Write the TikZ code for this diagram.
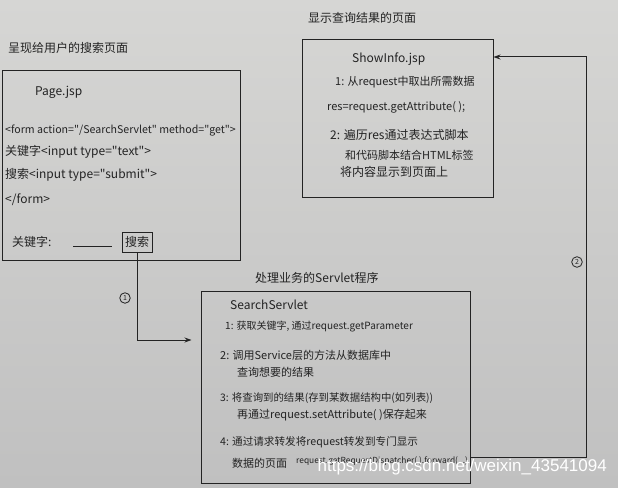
\documentclass[tikz,border=0pt]{standalone}
\usepackage{fontspec}
\setmainfont{Noto Sans CJK SC}
\newfontfamily\cnfont{Noto Sans CJK SC}
\newfontfamily\markfont{Liberation Sans}
\usetikzlibrary{arrows.meta}
\definecolor{paperlight}{RGB}{214,214,212}
\definecolor{paperdark}{RGB}{192,192,192}
\definecolor{pen}{RGB}{35,35,35}

\begin{document}
\begin{tikzpicture}[x=1pt, y=-1pt,
    ink/.style={draw=pen, line width=1pt},
    box/.style={ink, rectangle, inner sep=0pt},
    txt/.style={anchor=west, text=pen, inner sep=0pt, font=\cnfont\fontsize{11}{13}\selectfont},
    code/.style={txt, font=\cnfont\fontsize{10.6}{12}\selectfont},
    title/.style={txt, font=\cnfont\fontsize{12}{14}\selectfont},
    arrow/.style={ink, -{Stealth[length=7pt, width=5pt]}},
    num/.style={circle, draw=pen, line width=0.8pt, inner sep=1.5pt, text=pen, font=\cnfont\fontsize{7}{7}\selectfont}]
    % Paper
    \useasboundingbox (0,0) rectangle (618,487);
    \shade[top color=paperlight, bottom color=paperdark] (0,0) rectangle (618,487);

    % Search page
    \node[title] (page_title) at (8,48) {呈现给用户的搜索页面};
    \node[box, minimum width=238pt, minimum height=190pt] (page) at (121,165) {};
    \node[title] (page_name) at (35,92) {Page.jsp};
    \node[code] (form_open) at (5,131) {<form action="/SearchServlet" method="get">};
    \node[title] (form_text) at (5,152) {关键字<input type="text">};
    \node[title] (form_submit) at (5,175) {搜索<input type="submit">};
    \node[title] (form_close) at (5,200) {</form>};
    \node[title] (keyword) at (12,242) {关键字:};
    \draw[ink] (73,246) -- (112,246);
    \node[box, minimum width=30pt, minimum height=20pt, text=pen, font=\cnfont\fontsize{12}{14}\selectfont] (search_btn) at (137,242) {搜索};

    % Result page
    \node[title] (show_title) at (308,18) {显示查询结果的页面};
    \node[box, minimum width=191pt, minimum height=157pt] (show_info) at (397.5,118.5) {};
    \node[title] (show_name) at (352,59) {ShowInfo.jsp};
    \node[txt] (show_1) at (335,82) {1: 从request中取出所需数据};
    \node[txt] (show_2) at (327,107) {res=request.getAttribute( );};
    \node[title] (show_3) at (330,135) {2: 遍历res通过表达式脚本};
    \node[txt] (show_4) at (345,155) {和代码脚本结合HTML标签};
    \node[title] (show_5) at (340,172) {将内容显示到页面上};

    % Servlet
    \node[title] (servlet_title) at (255,278) {处理业务的Servlet程序};
    \node[box, minimum width=269pt, minimum height=192pt] (servlet) at (335.5,387) {};
    \node[title] (servlet_name) at (230,305) {SearchServlet};
    \node[txt, font=\cnfont\fontsize{10}{12}\selectfont] (servlet_1) at (225,327) {1: 获取关键字, 通过request.getParameter};
    \node[txt] (servlet_2) at (220,355) {2: 调用Service层的方法从数据库中};
    \node[txt] (servlet_3) at (237,372) {查询想要的结果};
    \node[txt, font=\cnfont\fontsize{10.4}{12}\selectfont] (servlet_4) at (220,398) {3: 将查询到的结果(存到某数据结构中(如列表))};
    \node[txt] (servlet_5) at (237,415) {再通过request.setAttribute( )保存起来};
    \node[txt, font=\cnfont\fontsize{10.6}{12}\selectfont] (servlet_6) at (220,442) {4: 通过请求转发将request转发到专门显示};
    \node[txt] (servlet_7) at (232,463) {数据的页面};
    \node[txt, font=\cnfont\fontsize{8.4}{10}\selectfont] (servlet_8) at (296,461) {request.getRequestDispatcher( ).forward(...)};

    % Draw connectors
    \coordinate (bend_1) at (137,340);
    \draw[arrow, shorten >=9pt] (search_btn.south) -- (bend_1) -- (servlet.west |- bend_1);
    \node[num] (step_1) at (125,298) {1};

    \coordinate (bend_2) at (586,457);
    \coordinate (bend_3) at (586,57);
    \draw[arrow] (servlet.east |- bend_2) -- (bend_2) -- (bend_3) -- (show_info.east |- bend_3);
    \node[num] (step_2) at (577,262) {2};

    % Watermark
    \node[anchor=east, inner sep=0pt, text=white, font=\markfont\fontsize{17}{17}\selectfont] (mark) at (607,467) {https://blog.csdn.net/weixin\_43541094};
\end{tikzpicture}
\end{document}
